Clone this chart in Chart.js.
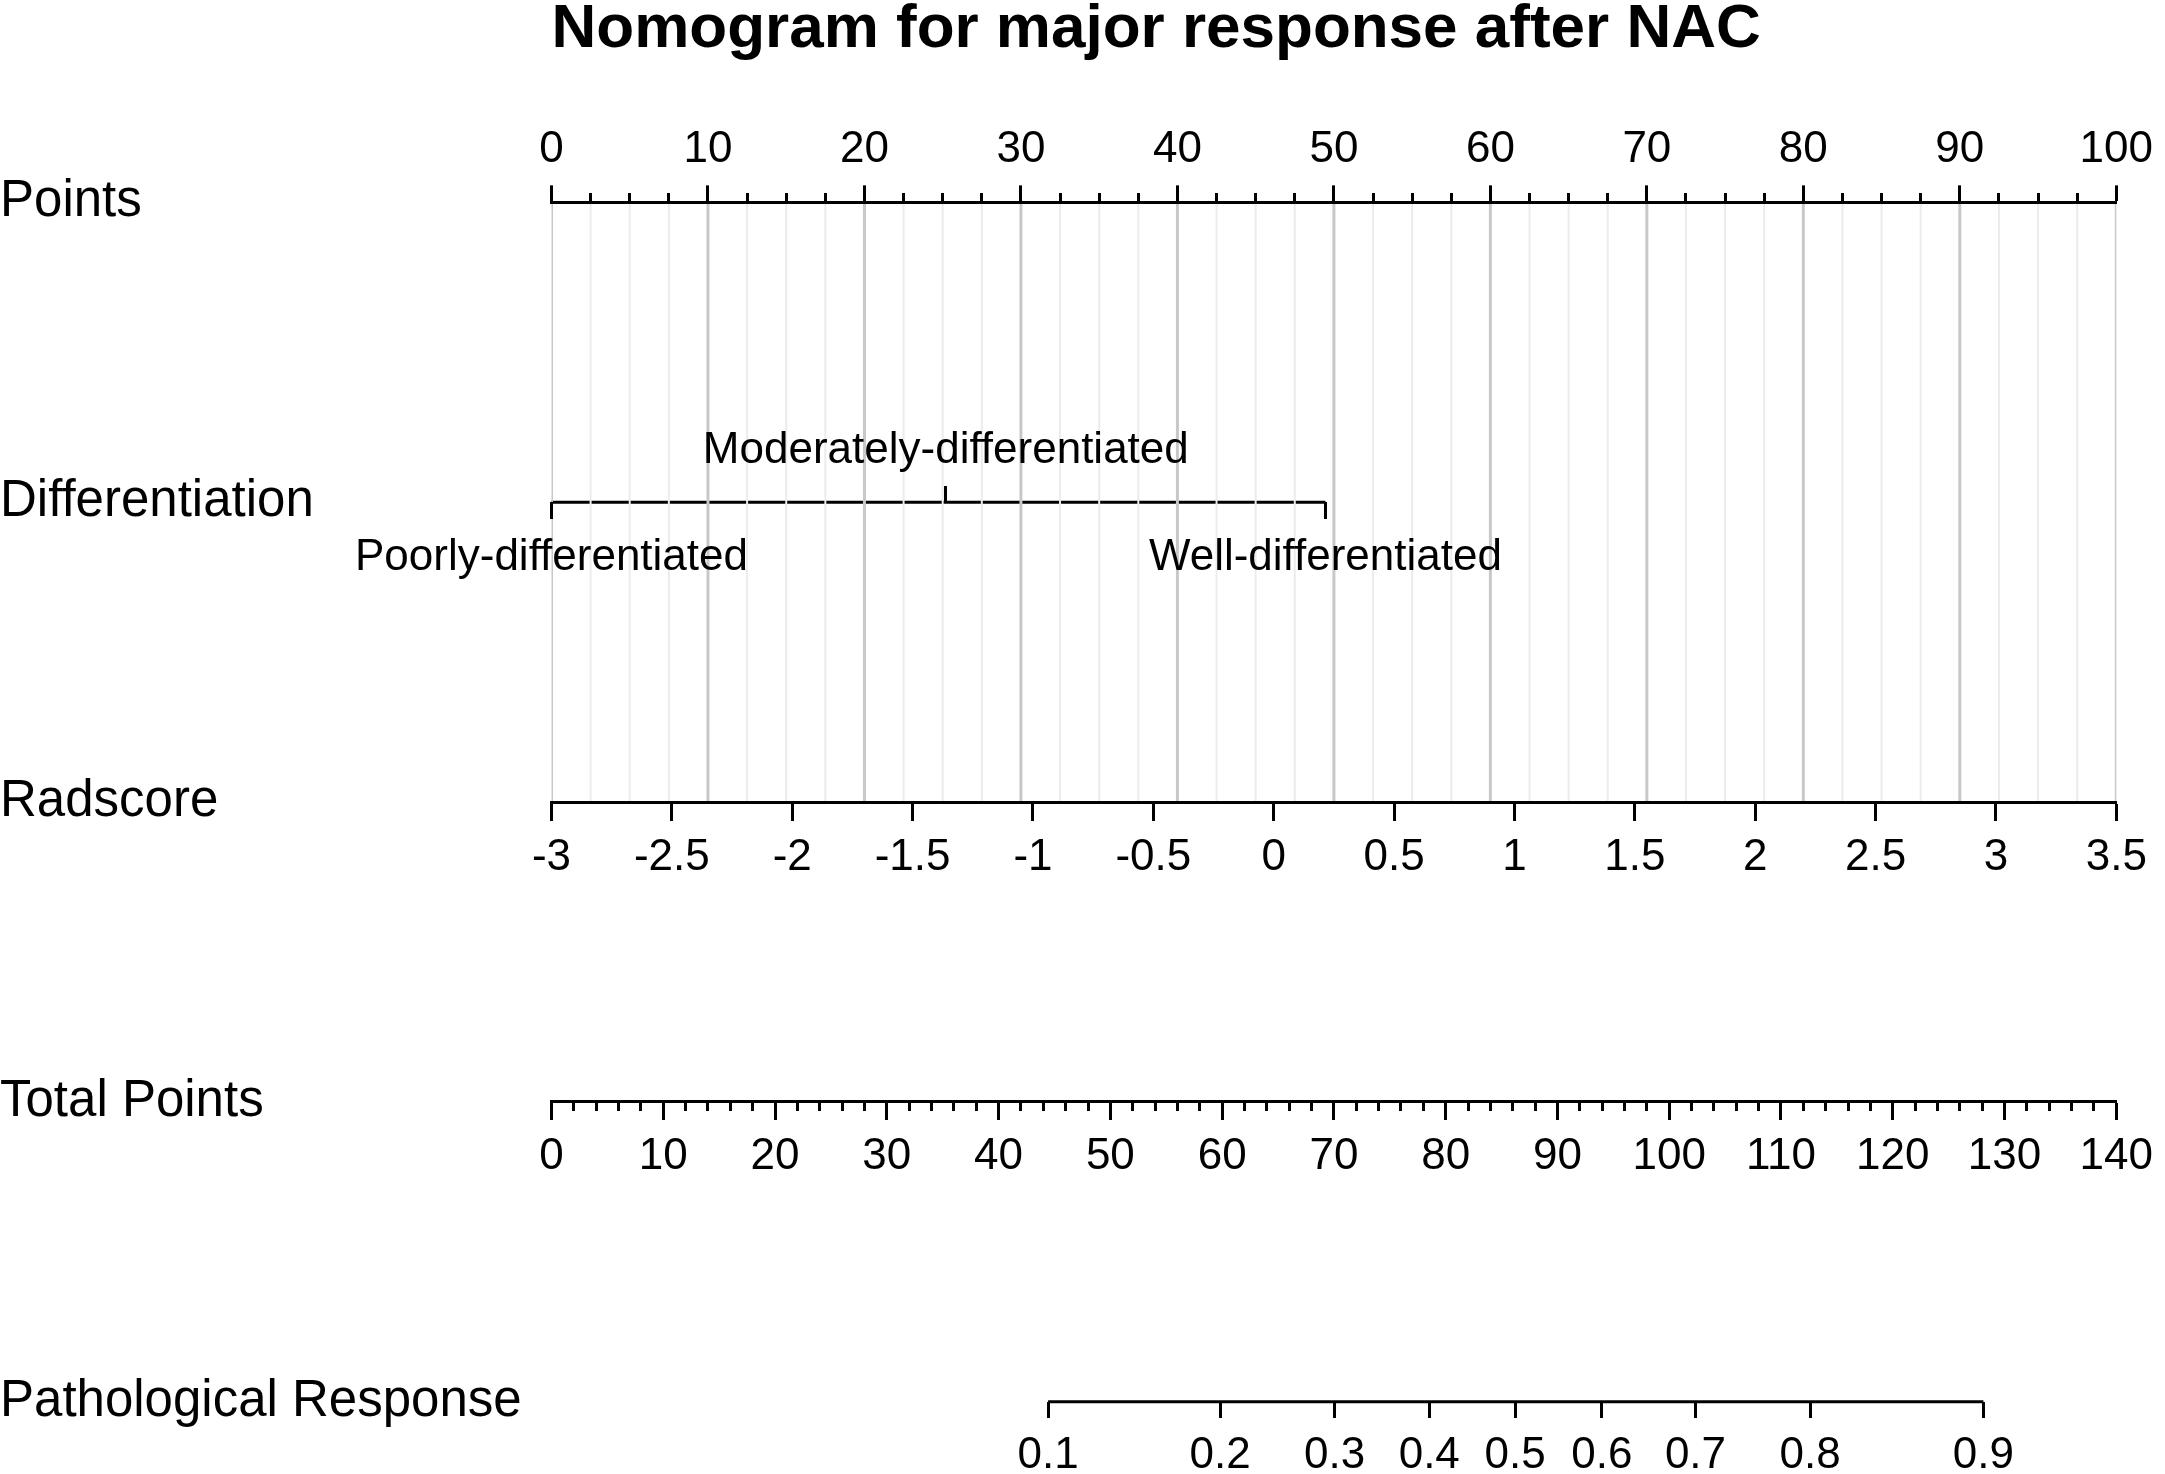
<!DOCTYPE html>
<html>
<head>
<meta charset="utf-8">
<script src="https://cdn.jsdelivr.net/npm/chart.js@4.4.1/dist/chart.umd.min.js"></script>
<style>
  html, body { margin: 0; padding: 0; background: #ffffff; }
  #wrap { width: 2165px; height: 1474px; position: relative; }
</style>
</head>
<body>
<div id="wrap"><canvas id="c"></canvas></div>
<script>
// ---------------- data ----------------
const chartTitle = 'Nomogram for major response after NAC';
const rowNames = ['Points', 'Differentiation', 'Radscore', 'Total Points', 'Pathological Response'];

const pointsTicks = [0, 10, 20, 30, 40, 50, 60, 70, 80, 90, 100];
const pointsMinorStep = 2.5;

const diffLabels = ['Poorly-differentiated', 'Moderately-differentiated', 'Well-differentiated'];
const diffPoints = [0, 25.2, 49.46];

const radscoreTicks = [-3, -2.5, -2, -1.5, -1, -0.5, 0, 0.5, 1, 1.5, 2, 2.5, 3, 3.5];

const totalTicks = [0, 10, 20, 30, 40, 50, 60, 70, 80, 90, 100, 110, 120, 130, 140];
const totalMinorStep = 2;

const probLabels = ['0.1', '0.2', '0.3', '0.4', '0.5', '0.6', '0.7', '0.8', '0.9'];
const probTotalPoints = [44.43, 59.82, 70.06, 78.53, 86.22, 93.98, 102.35, 112.60, 128.11];

// ---------------- helpers ----------------
const FONT = "'Liberation Sans', Arial, Helvetica, sans-serif";
const ROW = { points: 0, diff: 1, rad: 2, total: 3, path: 4 };
const LW = 3;

function fixedTicks(values) {
  return (axis) => { axis.ticks = values.map(v => ({ value: v })); };
}
function minorTicks(min, max, step, majorEvery) {
  const out = [];
  for (let k = 0; min + k * step <= max + 1e-9; k++) {
    const v = Math.round((min + k * step) * 1000) / 1000;
    const q = v / majorEvery;
    if (Math.abs(q - Math.round(q)) > 1e-9) out.push(v);
  }
  return out;
}
function gridData(values) {
  const d = [];
  values.forEach(v => { d.push({ x: v, y: ROW.points }, { x: v, y: ROW.rad }, { x: v, y: null }); });
  return d;
}
function hAxis(o) {
  return {
    type: 'linear', axis: 'x', min: o.min, max: o.max, bounds: 'data',
    position: o.position,
    afterBuildTicks: fixedTicks(o.ticks),
    grid: { display: true, drawOnChartArea: false, drawTicks: true, tickLength: o.tl,
            tickWidth: LW, tickColor: '#000000', z: 1 },
    border: { display: !!o.border, width: LW, color: '#000000', z: 1 },
    ticks: {
      display: !!o.labels,
      callback: (v, i) => (o.labels ? o.labels[i] : ''),
      font: { family: FONT, size: 44 }, color: '#000000',
      padding: o.pad || 0, autoSkip: false, maxRotation: 0, minRotation: 0, z: 1
    }
  };
}

const pointsMinor = minorTicks(0, 100, pointsMinorStep, 10);
const totalMinor = minorTicks(0, 140, totalMinorStep, 10);

// ---------------- chart ----------------
new Chart(document.getElementById('c'), {
  type: 'scatter',
  data: {
    datasets: [
      { label: 'grid minor', data: gridData(pointsMinor), xAxisID: 'x', yAxisID: 'y',
        showLine: true, spanGaps: false, borderColor: '#ececec', borderWidth: 2, pointRadius: 0 },
      { label: 'grid major', data: gridData(pointsTicks), xAxisID: 'x', yAxisID: 'y',
        showLine: true, spanGaps: false, borderColor: '#c8c8c8', borderWidth: 3, pointRadius: 0 },
      { label: 'Differentiation', data: [{ x: diffPoints[0], y: ROW.diff }, { x: diffPoints[2], y: ROW.diff }],
        xAxisID: 'x', yAxisID: 'y', showLine: true, borderColor: '#000000', borderWidth: LW,
        pointRadius: 0, clip: false },
      { label: 'Pathological Response', data: [{ x: probTotalPoints[0], y: ROW.path },
        { x: probTotalPoints[probTotalPoints.length - 1], y: ROW.path }],
        xAxisID: 'total', yAxisID: 'y', showLine: true, borderColor: '#000000', borderWidth: LW,
        pointRadius: 0, clip: false }
    ]
  },
  options: {
    responsive: true,
    maintainAspectRatio: false,
    animation: false,
    events: [],
    layout: { padding: { left: 0, right: 42.5, top: 0, bottom: 72.3 } },
    plugins: {
      legend: { display: false },
      tooltip: { enabled: false },
      title: {
        display: true, text: chartTitle, align: 'start', fullSize: false, color: '#000000',
        font: { family: FONT, size: 62, weight: 'bold', lineHeight: 0.87 },
        padding: { top: 3, bottom: 57.6 }
      }
    },
    scales: {
      y: {
        type: 'linear', axis: 'y', position: 'left', min: 0, max: 4, reverse: true, bounds: 'data',
        afterBuildTicks: fixedTicks([ROW.points, ROW.diff, ROW.rad, ROW.total, ROW.path]),
        afterFit: (s) => { s.width = 551.5; },
        grid: { display: false }, border: { display: false },
        ticks: { callback: (v, i) => rowNames[i], font: { family: FONT, size: 51 }, color: '#000000',
                 crossAlign: 'far', padding: 0, autoSkip: false }
      },
      x: hAxis({ min: 0, max: 100, position: 'top', ticks: pointsTicks,
                 labels: pointsTicks.map(String), tl: 17, pad: 9, border: true }),
      pointsMinor: hAxis({ min: 0, max: 100, position: { y: ROW.points }, ticks: pointsMinor, tl: -9 }),
      diffDown: hAxis({ min: 0, max: 100, position: { y: ROW.diff }, ticks: [diffPoints[0], diffPoints[2]],
                        labels: [diffLabels[0], diffLabels[2]], tl: 17, pad: 12 }),
      diffUp: hAxis({ min: 0, max: 100, position: { y: ROW.diff }, ticks: [diffPoints[1]],
                      labels: [diffLabels[1]], tl: -16, pad: -61.4 }),
      rad: hAxis({ min: -3, max: 3.5, position: { y: ROW.rad }, ticks: radscoreTicks,
                   labels: radscoreTicks.map(String), tl: 17, pad: 12, border: true }),
      total: hAxis({ min: 0, max: 140, position: { y: ROW.total }, ticks: totalTicks,
                     labels: totalTicks.map(String), tl: 17, pad: 12, border: true }),
      totalMinor: hAxis({ min: 0, max: 140, position: { y: ROW.total }, ticks: totalMinor, tl: 9 }),
      path: hAxis({ min: 0, max: 140, position: { y: ROW.path }, ticks: probTotalPoints,
                    labels: probLabels, tl: 16, pad: 12 })
    }
  }
});
</script>
</body>
</html>
